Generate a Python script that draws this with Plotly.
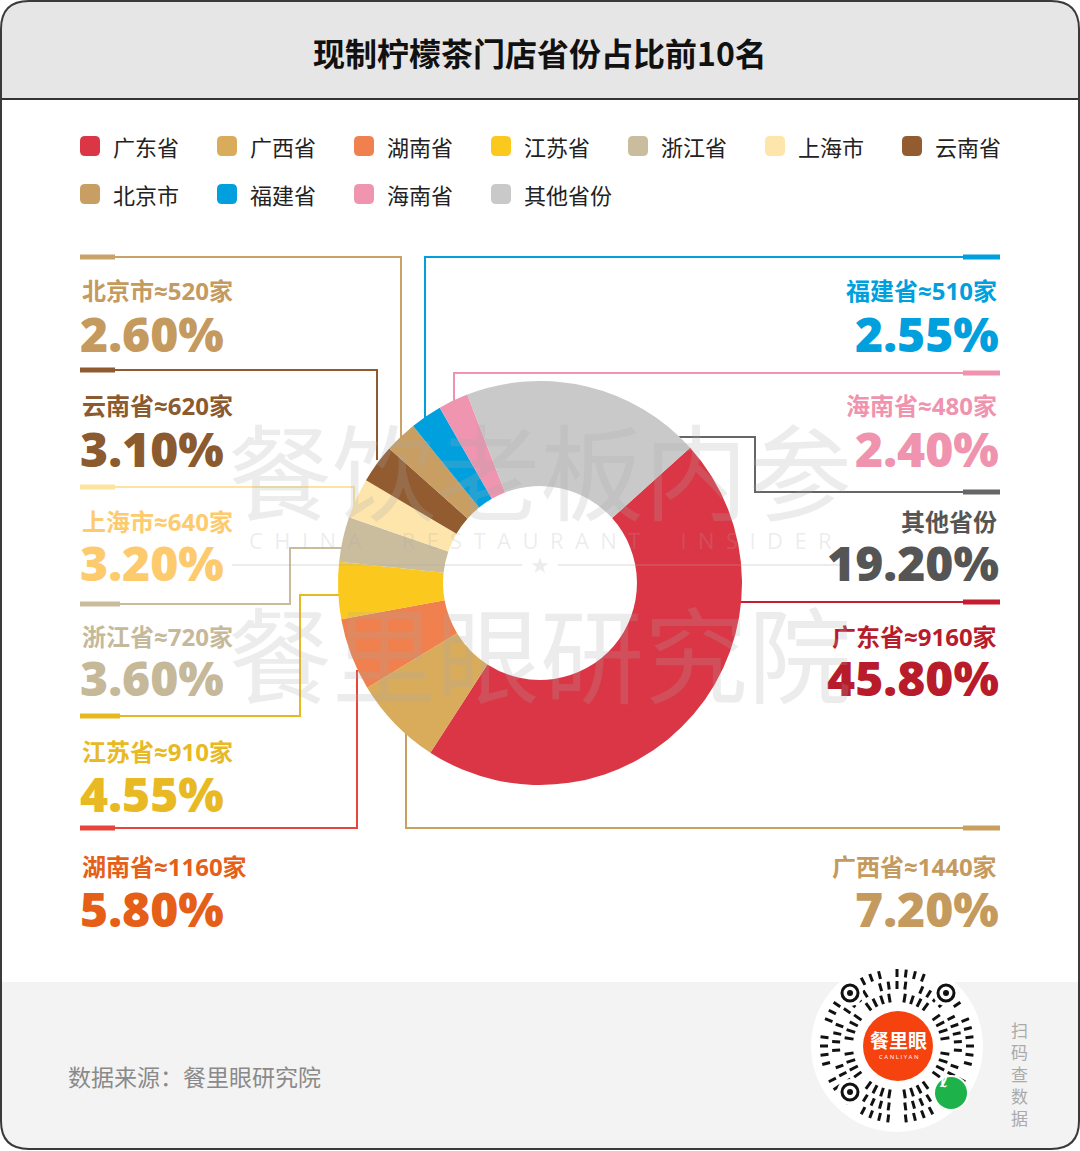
import math
import plotly.graph_objects as go

W, H = 1080, 1151

# 数据
provinces = ["广东省", "广西省", "湖南省", "江苏省", "浙江省", "上海市",
             "云南省", "北京市", "福建省", "海南省", "其他省份"]
shares = [45.80, 7.20, 5.80, 4.55, 3.60, 3.20, 3.10, 2.60, 2.55, 2.40, 19.20]
stores = [9160, 1440, 1160, 910, 720, 640, 620, 520, 510, 480, None]

slice_colors = ["#DB3646", "#D9AC5C", "#F0804E", "#FBC81E", "#C9BD9E", "#FDE5AC",
                "#925C30", "#C89E62", "#00A0DE", "#EF95B0", "#C8C9C8"]
text_colors = ["#B81C2B", "#C49A5E", "#E55F19", "#E8B923", "#C5B99A", "#FDCB6E",
               "#8B5A2E", "#C49A5E", "#009FDE", "#EF93AE", "#555555"]
line_colors = ["#C41E30", "#C9A060", "#E8453A", "#E8B820", "#C9BC9C", "#FDE3A0",
               "#8F5A30", "#C9A26A", "#00A0DE", "#EF93AE", "#666666"]


def X(px):
    return px / W


def Y(py):
    return 1 - py / H


# 标签位置 (像素): 侧, 名称行y
label_pos = {
    "北京市": ("left", 291), "云南省": ("left", 406), "上海市": ("left", 521),
    "浙江省": ("left", 636), "江苏省": ("left", 751), "湖南省": ("left", 866),
    "福建省": ("right", 291), "海南省": ("right", 406), "其他省份": ("right", 521),
    "广东省": ("right", 636), "广西省": ("right", 866),
}

# 引导线 (像素): 细线折点, 粗端线
leaders = {
    "北京市": ([(115, 257), (401, 257), (401, 440)], (80, 115, 257)),
    "云南省": ([(115, 370), (377, 370), (377, 460)], (80, 115, 370)),
    "上海市": ([(115, 487), (354, 487), (354, 520)], (80, 115, 487)),
    "浙江省": ([(120, 604), (290, 604), (290, 548), (360, 548)], (80, 120, 604)),
    "江苏省": ([(120, 716), (300, 716), (300, 595), (360, 595)], (80, 120, 716)),
    "湖南省": ([(115, 828), (357, 828), (357, 670)], (80, 115, 828)),
    "广西省": ([(406, 730), (406, 828), (963, 828)], (963, 1000, 828)),
    "广东省": ([(720, 602), (963, 602)], (963, 1000, 602)),
    "其他省份": ([(670, 437), (755, 437), (755, 492), (963, 492)], (963, 1000, 492)),
    "海南省": ([(454, 410), (454, 373), (963, 373)], (963, 1000, 373)),
    "福建省": ([(425, 425), (425, 257), (963, 257)], (963, 1000, 257)),
}

fig = go.Figure()
fig.add_trace(go.Pie(
    labels=provinces, values=shares, sort=False, direction="clockwise",
    rotation=48, hole=0.48, textinfo="none", hoverinfo="label+percent",
    marker=dict(colors=slice_colors, line=dict(width=0)),
    domain=dict(x=[X(338), X(742)], y=[Y(785), Y(381)]),
    showlegend=False,
))

shapes = []
annotations = []

# 标题栏、页脚、外框
r = 28
shapes.append(dict(type="path", xref="paper", yref="paper", layer="below",
                   path=f"M{X(1)},{Y(99)} L{X(1)},{Y(1 + r)} Q{X(1)},{Y(1)} {X(1 + r)},{Y(1)} "
                        f"L{X(W - 1 - r)},{Y(1)} Q{X(W - 1)},{Y(1)} {X(W - 1)},{Y(1 + r)} L{X(W - 1)},{Y(99)} Z",
                   fillcolor="#E6E6E6", line=dict(width=0)))
shapes.append(dict(type="path", xref="paper", yref="paper", layer="below",
                   path=f"M{X(1)},{Y(982)} L{X(W - 1)},{Y(982)} L{X(W - 1)},{Y(H - 2 - r)} "
                        f"Q{X(W - 1)},{Y(H - 2)} {X(W - 1 - r)},{Y(H - 2)} L{X(1 + r)},{Y(H - 2)} "
                        f"Q{X(1)},{Y(H - 2)} {X(1)},{Y(H - 2 - r)} Z",
                   fillcolor="#F3F3F3", line=dict(width=0)))
shapes.append(dict(type="line", xref="paper", yref="paper", x0=X(1), x1=X(W - 1), y0=Y(99), y1=Y(99),
                   line=dict(color="#333333", width=2)))
shapes.append(dict(type="path", xref="paper", yref="paper",
                   path=f"M{X(1 + r)},{Y(1)} L{X(W - 1 - r)},{Y(1)} Q{X(W - 1)},{Y(1)} {X(W - 1)},{Y(1 + r)} "
                        f"L{X(W - 1)},{Y(H - 2 - r)} Q{X(W - 1)},{Y(H - 2)} {X(W - 1 - r)},{Y(H - 2)} "
                        f"L{X(1 + r)},{Y(H - 2)} Q{X(1)},{Y(H - 2)} {X(1)},{Y(H - 2 - r)} "
                        f"L{X(1)},{Y(1 + r)} Q{X(1)},{Y(1)} {X(1 + r)},{Y(1)} Z",
                   line=dict(color="#3A3A3A", width=2)))

annotations.append(dict(text="<b>现制柠檬茶门店省份占比前10名</b>", x=X(540), y=Y(52), xref="paper",
                        yref="paper", showarrow=False, xanchor="center", yanchor="middle",
                        font=dict(family="Noto Sans CJK SC", size=32, color="#111111")))


def rounded_rect(x0, y0, x1, y1, rr):
    return (f"M{X(x0 + rr)},{Y(y0)} L{X(x1 - rr)},{Y(y0)} Q{X(x1)},{Y(y0)} {X(x1)},{Y(y0 + rr)} "
            f"L{X(x1)},{Y(y1 - rr)} Q{X(x1)},{Y(y1)} {X(x1 - rr)},{Y(y1)} L{X(x0 + rr)},{Y(y1)} "
            f"Q{X(x0)},{Y(y1)} {X(x0)},{Y(y1 - rr)} L{X(x0)},{Y(y0 + rr)} Q{X(x0)},{Y(y0)} {X(x0 + rr)},{Y(y0)} Z")


# 图例
for i, (name, col) in enumerate(zip(provinces, slice_colors)):
    row, c = divmod(i, 7)
    lx = 80 + c * 137
    ly = 146 + row * 48
    shapes.append(dict(type="path", xref="paper", yref="paper", path=rounded_rect(lx, ly - 10, lx + 20, ly + 10, 5),
                       fillcolor=col, line=dict(width=0)))
    annotations.append(dict(text=name, x=X(lx + 31), y=Y(ly), xref="paper", yref="paper",
                            showarrow=False, xanchor="left", yanchor="middle",
                            font=dict(family="Noto Sans CJK SC", size=22, color="#222222")))

# 引导线与数值标签
for name, share, cnt, tc, lc in zip(provinces, shares, stores, text_colors, line_colors):
    pts, (bx0, bx1, by) = leaders[name]
    path = "M" + " L".join(f"{X(px)},{Y(py)}" for px, py in pts)
    shapes.append(dict(type="path", xref="paper", yref="paper", path=path, layer="below",
                       line=dict(color=lc, width=2)))
    shapes.append(dict(type="line", xref="paper", yref="paper", x0=X(bx0), x1=X(bx1),
                       y0=Y(by), y1=Y(by), line=dict(color=lc, width=5)))
    side, ny = label_pos[name]
    lx = 80 if side == "left" else 999
    anchor = "left" if side == "left" else "right"
    title = name if cnt is None else f"{name}≈{cnt}家"
    annotations.append(dict(text=f"<b>{title}</b>", x=X(lx), y=Y(ny), xref="paper", yref="paper",
                            showarrow=False, xanchor=anchor, yanchor="middle",
                            font=dict(family="Open Sans, Noto Sans CJK SC", size=24, color=tc)))
    annotations.append(dict(text=f"{share:.2f}%", x=X(lx - 2 if side == "left" else lx + 2), y=Y(ny + 42),
                            xref="paper", yref="paper", showarrow=False, xanchor=anchor, yanchor="middle",
                            font=dict(family="Open Sans", size=48, color=tc, weight=800)))

# 水印
wm = "rgba(170,170,170,0.22)"
nb = "\u00a0"
wm_en = (nb * 7).join((nb * 2).join(word) for word in ["CHINA", "RESTAURANT", "INSIDER"])
annotations.append(dict(text="餐饮老板内参", x=X(540), y=Y(468), xref="paper", yref="paper",
                        showarrow=False, font=dict(family="Noto Sans CJK SC", size=104, color=wm)))
annotations.append(dict(text="餐里眼研究院", x=X(540), y=Y(650), xref="paper", yref="paper",
                        showarrow=False, font=dict(family="Noto Sans CJK SC", size=104, color=wm)))
annotations.append(dict(text=wm_en, x=X(540), y=Y(540), xref="paper", yref="paper", showarrow=False,
                        font=dict(family="Open Sans", size=22, color=wm)))
annotations.append(dict(text="★", x=X(540), y=Y(565), xref="paper", yref="paper", showarrow=False,
                        font=dict(family="DejaVu Sans", size=22, color=wm)))
for x0, x1 in [(232, 522), (558, 848)]:
    shapes.append(dict(type="line", xref="paper", yref="paper", x0=X(x0), x1=X(x1), y0=Y(565), y1=Y(565),
                       line=dict(color=wm, width=2)))

# 页脚
annotations.append(dict(text="数据来源：餐里眼研究院", x=X(66), y=Y(1076), xref="paper", yref="paper",
                        showarrow=False, xanchor="left", yanchor="middle",
                        font=dict(family="Noto Sans CJK SC", size=23, color="#8A8A8A")))
annotations.append(dict(text="扫<br>码<br>查<br>数<br>据", x=X(1019), y=Y(1073), xref="paper", yref="paper",
                        showarrow=False, xanchor="center", yanchor="middle",
                        font=dict(family="Noto Sans CJK SC", size=17, color="#AAAAAA")))


def circle(cx, cy, rad, fill, line_col=None, lw=0):
    return dict(type="circle", xref="paper", yref="paper", x0=X(cx - rad), x1=X(cx + rad),
                y0=Y(cy + rad), y1=Y(cy - rad), fillcolor=fill,
                line=dict(color=line_col or fill, width=lw))


shapes.append(circle(897, 1046, 86, "#FFFFFF"))
# 小程序码的放射短线
for ring, (rad0, rad1, n) in enumerate([(44, 53, 40), (57, 65, 46), (69, 77, 52)]):
    for k in range(n):
        if (k * 7 + ring * 3) % 5 == 0:
            continue
        a = 2 * math.pi * (k + 0.5 * ring) / n
        x0, y0 = 897 + rad0 * math.cos(a), 1046 + rad0 * math.sin(a)
        x1, y1 = 897 + rad1 * math.cos(a), 1046 + rad1 * math.sin(a)
        shapes.append(dict(type="line", xref="paper", yref="paper", x0=X(x0), x1=X(x1), y0=Y(y0), y1=Y(y1),
                           line=dict(color="#111111", width=3)))
for cx, cy in [(850, 993), (946, 993), (850, 1092)]:
    shapes.append(circle(cx, cy, 13, "#FFFFFF"))
    shapes.append(circle(cx, cy, 8, "#FFFFFF", "#111111", 3))
    shapes.append(circle(cx, cy, 3, "#111111"))
shapes.append(circle(898, 1046, 38, "#FFFFFF"))
shapes.append(circle(898, 1046, 35, "#F5420E"))
shapes.append(circle(951, 1093, 18, "#FFFFFF"))
shapes.append(circle(951, 1093, 16, "#1DB34A"))
annotations.append(dict(text="<b>餐里眼</b>", x=X(898), y=Y(1039), xref="paper", yref="paper", showarrow=False,
                        xanchor="center", yanchor="middle",
                        font=dict(family="Noto Sans CJK SC", size=19, color="#FFFFFF")))
annotations.append(dict(text="C A N L I Y A N", x=X(898), y=Y(1057), xref="paper", yref="paper",
                        showarrow=False, xanchor="center", yanchor="middle",
                        font=dict(family="Open Sans", size=6, color="#FFFFFF")))
annotations.append(dict(text="<b>ℓ</b>", x=X(951), y=Y(1093), xref="paper", yref="paper", showarrow=False,
                        font=dict(family="DejaVu Sans", size=18, color="#FFFFFF")))

fig.update_layout(
    width=W, height=H, margin=dict(l=0, r=0, t=0, b=0),
    paper_bgcolor="#FFFFFF", plot_bgcolor="#FFFFFF",
    shapes=shapes, annotations=annotations, showlegend=False,
)

fig.write_html("out.html", config={"displayModeBar": False},
               post_script="document.body.style.margin='0px';")
